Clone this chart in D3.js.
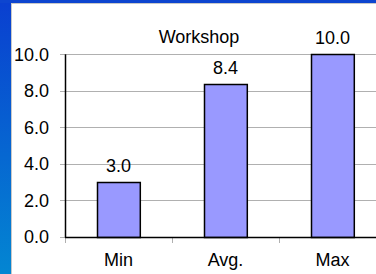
<!DOCTYPE html>
<html>
<head>
<meta charset="utf-8">
<script src="https://cdn.jsdelivr.net/npm/d3@7"></script>
<style>
  html, body { margin: 0; padding: 0; overflow: hidden; }
  svg { display: block; }
  text { font-family: "Liberation Sans", Arial, sans-serif; fill: #000; }
</style>
</head>
<body>
<svg id="chart" width="376" height="274"></svg>
<script>
const categories = ["Min", "Avg.", "Max"];
const values = [3.0, 8.4, 10.0];
const yTicks = [0, 2, 4, 6, 8, 10];
const title = "Workshop";

const W = 376, H = 274;
const svg = d3.select("#chart");

// Blue backdrop
const defs = svg.append("defs");
const grad = defs.append("linearGradient").attr("id", "bg").attr("x1", 0).attr("y1", 0).attr("x2", 0).attr("y2", 1);
grad.append("stop").attr("offset", "0%").attr("stop-color", "#0a3fd0");
grad.append("stop").attr("offset", "100%").attr("stop-color", "#0386d2");
svg.append("rect").attr("width", W).attr("height", H).attr("fill", "url(#bg)");
svg.append("rect").attr("x", 0).attr("y", 0).attr("width", W).attr("height", 3).attr("fill", "#0d45cf");

// White chart area
svg.append("rect").attr("x", 11).attr("y", 3).attr("width", W - 11).attr("height", H - 3).attr("fill", "#ffffff");
svg.append("line").attr("x1", 11.5).attr("x2", 11.5).attr("y1", 3).attr("y2", H).attr("stroke", "#c8c8c8");
svg.append("line").attr("x1", 11).attr("x2", W).attr("y1", 3.5).attr("y2", 3.5).attr("stroke", "#c8c8c8");

const plotLeft = 65, step = 107;
const x = d3.scaleBand()
  .domain(categories)
  .range([plotLeft, plotLeft + step * categories.length])
  .paddingInner(0.6)
  .paddingOuter(0.3);
const y = d3.scaleLinear().domain([0, 10]).range([237, 54.3]);

// Gridlines + y ticks
const grid = svg.append("g");
grid.selectAll("line").data(yTicks).join("line")
  .attr("x1", plotLeft - 5).attr("x2", W)
  .attr("y1", d => Math.round(y(d)) + 0.5).attr("y2", d => Math.round(y(d)) + 0.5)
  .attr("stroke", "#b0b0b0").attr("stroke-width", 1);

// Y labels
svg.append("g").selectAll("text").data(yTicks).join("text")
  .attr("x", 49).attr("y", d => y(d)).attr("dy", "0.36em")
  .attr("text-anchor", "end").attr("font-size", 18)
  .text(d3.format(".1f"));

// Bars
svg.append("g").selectAll("rect").data(values).join("rect")
  .attr("x", (d, i) => Math.round(x(categories[i])) + 0.5)
  .attr("y", d => Math.round(y(d)) + 0.5)
  .attr("width", x.bandwidth())
  .attr("height", d => y(0) - Math.round(y(d)))
  .attr("fill", "#9999ff").attr("stroke", "#000").attr("stroke-width", 1.5);

// Value labels
svg.append("g").selectAll("text").data(values).join("text")
  .attr("x", (d, i) => x(categories[i]) + x.bandwidth() / 2)
  .attr("y", d => y(d) - 10)
  .attr("text-anchor", "middle").attr("font-size", 18)
  .text(d3.format(".1f"));

// X tick marks at band boundaries
const bounds = categories.map(c => x(c) + x.bandwidth() / 2 - x.step() / 2);
svg.append("g").selectAll("line").data(bounds).join("line")
  .attr("x1", d => Math.round(d) + 0.5).attr("x2", d => Math.round(d) + 0.5)
  .attr("y1", y(0)).attr("y2", y(0) + 6)
  .attr("stroke", "#b0b0b0");

// Axes lines
svg.append("line").attr("x1", plotLeft + 0.5).attr("x2", plotLeft + 0.5)
  .attr("y1", y(10)).attr("y2", y(0) + 0.5).attr("stroke", "#000").attr("stroke-width", 1.5);
svg.append("line").attr("x1", plotLeft).attr("x2", W)
  .attr("y1", Math.round(y(0)) + 0.5).attr("y2", Math.round(y(0)) + 0.5).attr("stroke", "#000").attr("stroke-width", 1.5);

// X labels
svg.append("g").selectAll("text").data(categories).join("text")
  .attr("x", c => x(c) + x.bandwidth() / 2)
  .attr("y", 266)
  .attr("text-anchor", "middle").attr("font-size", 18)
  .text(c => c);

// Title
svg.append("text").attr("x", 199).attr("y", 43)
  .attr("text-anchor", "middle").attr("font-size", 18)
  .text(title);
</script>
</body>
</html>
